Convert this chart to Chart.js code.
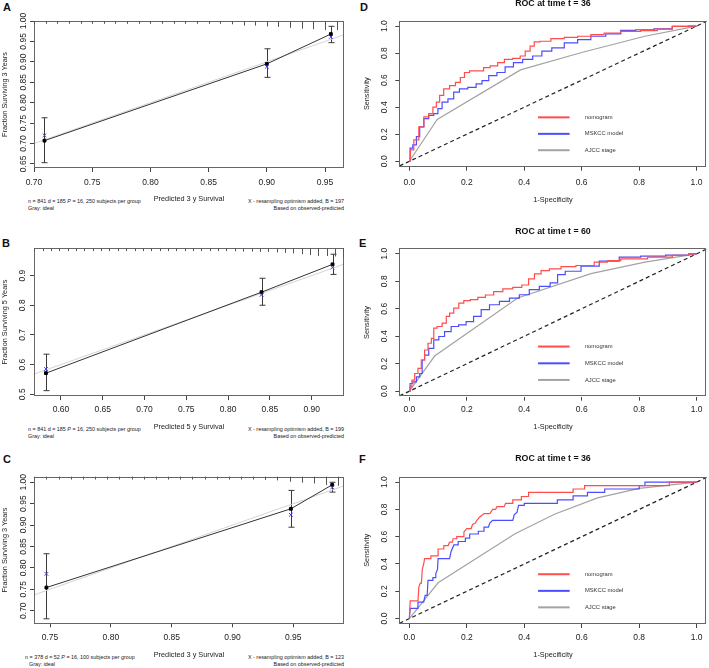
<!DOCTYPE html>
<html lang="en">
<head>
<meta charset="UTF-8">
<title>Calibration and time-dependent ROC</title>
<script src="https://cdn.jsdelivr.net/npm/chart.js"></script>
<style>
  body { margin: 0; background: #fff; width: 709px; height: 668px; overflow: hidden; position: relative;
         font-family: "Liberation Sans", Arial, sans-serif; color: #222; }
  canvas { position: absolute; }
  .tag { position: absolute; font-weight: bold; font-size: 11px; line-height: 12px; color: #111; }
  .note { position: absolute; font-size: 5.4px; line-height: 7.6px; white-space: nowrap; }
  .note.r { text-align: right; }
</style>
</head>
<body>
<div class="tag" style="left:3px;top:1px">A</div>
<div class="tag" style="left:2px;top:237px">B</div>
<div class="tag" style="left:3px;top:453px">C</div>
<div class="tag" style="left:360px;top:1px">D</div>
<div class="tag" style="left:359px;top:237px">E</div>
<div class="tag" style="left:359px;top:453px">F</div>

<div class="note" style="left:28px;top:197.5px">n = 841 d = 185 <i>P</i> = 16, 250 subjects per group<br>Gray: ideal</div>
<div class="note r" style="right:365px;top:197.5px">X - resampling optimism added, B = 197<br>Based on observed-predicted</div>
<div class="note" style="left:28px;top:425.5px">n = 841 d = 185 <i>P</i> = 16, 250 subjects per group<br>Gray: ideal</div>
<div class="note r" style="right:365px;top:425.5px">X - resampling optimism added, B = 199<br>Based on observed-predicted</div>
<div class="note" style="left:25px;top:653.5px">n = 378 d = 52 <i>P</i> = 16, 100 subjects per group<br><span style="padding-left:4px">Gray: ideal</span></div>
<div class="note r" style="right:365px;top:653.5px">X - resampling optimism added, B = 123<br>Based on observed-predicted</div>

<canvas id="calA" width="355" height="215" style="left:0;top:0"></canvas>
<canvas id="calB" width="355" height="225" style="left:0;top:215px"></canvas>
<canvas id="calC" width="355" height="228" style="left:0;top:440px"></canvas>
<canvas id="rocD" width="349" height="215" style="left:360px;top:0"></canvas>
<canvas id="rocE" width="349" height="225" style="left:360px;top:215px"></canvas>
<canvas id="rocF" width="349" height="228" style="left:360px;top:440px"></canvas>

<script>
// ---- calibration data (A: 3-year, training) ----
const calA_pred = [0.709, 0.900, 0.955];
const calA_obs  = [0.707, 0.895, 0.968];
const calA_corr = [0.720, 0.888, 0.961];
const calA_lo   = [0.653, 0.862, 0.947];
const calA_hi   = [0.763, 0.932, 0.987];
const calA_rugX = [0.70, 0.71, 0.72, 0.73, 0.74, 0.75, 0.76, 0.77, 0.78, 0.79, 0.80, 0.81, 0.82, 0.83,
                   0.84, 0.85, 0.86, 0.87, 0.88, 0.89, 0.90, 0.91, 0.92, 0.93, 0.94, 0.95, 0.96];
const calA_rugN = [0.2, 0.2, 0.2, 0.2, 0.2, 0.2, 0.2, 0.2, 0.2, 0.2, 0.2, 0.2, 0.2, 0.2,
                   0.2, 0.2, 0.2, 0.25, 0.4, 0.4, 0.5, 0.55, 0.65, 0.75, 0.8, 0.9, 0.9];
const calA_xTicks = [0.70, 0.75, 0.80, 0.85, 0.90, 0.95];
const calA_yTicks = [0.65, 0.70, 0.75, 0.80, 0.85, 0.90, 0.95, 1.00];

// ---- calibration data (B: 5-year, training) ----
const calB_pred = [0.582, 0.840, 0.925];
const calB_obs  = [0.571, 0.844, 0.938];
const calB_corr = [0.585, 0.835, 0.928];
const calB_lo   = [0.512, 0.800, 0.904];
const calB_hi   = [0.635, 0.891, 0.972];
const calB_rugX = [0.568, 0.578, 0.588, 0.598, 0.608, 0.618, 0.628, 0.638, 0.648, 0.658, 0.668, 0.678, 0.688,
                   0.698, 0.708, 0.718, 0.728, 0.738, 0.748, 0.758, 0.768, 0.778, 0.788, 0.798, 0.808, 0.818,
                   0.828, 0.838, 0.848, 0.858, 0.868, 0.878, 0.888, 0.898, 0.908, 0.918, 0.928, 0.938];
const calB_rugN = [0.2, 0.2, 0.2, 0.2, 0.2, 0.2, 0.2, 0.2, 0.2, 0.2, 0.2, 0.2, 0.2,
                   0.2, 0.2, 0.2, 0.2, 0.2, 0.2, 0.2, 0.2, 0.2, 0.2, 0.2, 0.22, 0.25,
                   0.25, 0.3, 0.3, 0.35, 0.4, 0.45, 0.55, 0.65, 0.75, 0.75, 0.8, 0.9];
const calB_xTicks = [0.60, 0.65, 0.70, 0.75, 0.80, 0.85, 0.90];
const calB_yTicks = [0.5, 0.6, 0.7, 0.8, 0.9];

// ---- calibration data (C: 3-year, validation) ----
const calC_pred = [0.747, 0.948, 0.982];
const calC_obs  = [0.754, 0.938, 0.994];
const calC_corr = [0.786, 0.924, 0.988];
const calC_lo   = [0.681, 0.895, 0.977];
const calC_hi   = [0.833, 0.981, 1.000];
const calC_rugX = [0.737, 0.747, 0.757, 0.767, 0.777, 0.787, 0.797, 0.807, 0.817, 0.827, 0.837, 0.847, 0.857,
                   0.867, 0.877, 0.887, 0.897, 0.907, 0.917, 0.927, 0.937, 0.947, 0.957, 0.967, 0.977, 0.987];
const calC_rugN = [0.2, 0.2, 0.2, 0.2, 0.2, 0.2, 0.2, 0.2, 0.2, 0.2, 0.2, 0.2, 0.2,
                   0.2, 0.2, 0.2, 0.2, 0.2, 0.2, 0.25, 0.3, 0.45, 0.55, 0.65, 0.8, 0.9];
const calC_xTicks = [0.75, 0.80, 0.85, 0.90, 0.95];
const calC_yTicks = [0.70, 0.75, 0.80, 0.85, 0.90, 0.95, 1.00];

// ---- ROC curves [1-specificity, sensitivity] ----
const rocTicks = [0, 0.2, 0.4, 0.6, 0.8, 1.0];

const rocD_nomogram = [[0,0],[0.007,0.085],[0.024,0.158],[0.042,0.255],[0.059,0.328],[0.076,0.353],[0.088,0.401],
  [0.1,0.438],[0.111,0.487],[0.128,0.535],[0.152,0.56],[0.169,0.584],[0.186,0.62],[0.198,0.657],[0.221,0.669],
  [0.25,0.669],[0.267,0.693],[0.296,0.706],[0.319,0.73],[0.343,0.754],[0.377,0.762],[0.395,0.779],[0.412,0.815],
  [0.429,0.852],[0.441,0.883],[0.47,0.888],[0.516,0.908],[0.563,0.917],[0.609,0.925],[0.655,0.937],[0.701,0.949],
  [0.771,0.961],[0.84,0.966],[0.887,0.978],[0.944,0.998],[1,1]];
const rocD_mskcc = [[0,0],[0.005,0.097],[0.019,0.122],[0.03,0.182],[0.042,0.255],[0.059,0.316],[0.076,0.34],
  [0.094,0.353],[0.105,0.389],[0.123,0.438],[0.146,0.462],[0.163,0.511],[0.186,0.535],[0.221,0.547],[0.244,0.572],
  [0.262,0.596],[0.291,0.633],[0.319,0.657],[0.348,0.698],[0.377,0.73],[0.412,0.754],[0.447,0.779],[0.476,0.815],
  [0.516,0.839],[0.563,0.876],[0.609,0.9],[0.655,0.925],[0.713,0.942],[0.759,0.968],[0.817,0.973],[0.887,0.98],
  [0.944,0.998],[1,1]];
const rocD_ajcc = [[0,0],[0.097,0.31],[0.387,0.676],[0.6,0.805],[0.82,0.925],[1,1]];

const rocE_nomogram = [[0,0],[0.005,0.032],[0.013,0.08],[0.024,0.129],[0.036,0.166],[0.047,0.227],[0.059,0.3],
  [0.071,0.349],[0.082,0.385],[0.088,0.459],[0.105,0.471],[0.123,0.495],[0.134,0.544],[0.146,0.568],[0.163,0.605],
  [0.181,0.641],[0.198,0.659],[0.227,0.666],[0.25,0.683],[0.279,0.7],[0.308,0.724],[0.343,0.744],[0.377,0.756],
  [0.406,0.773],[0.424,0.817],[0.447,0.854],[0.47,0.878],[0.505,0.89],[0.551,0.907],[0.609,0.915],[0.678,0.939],
  [0.701,0.951],[0.771,0.963],[0.887,0.976],[0.944,0.988],[1,1]];
const rocE_mskcc = [[0,0],[0.005,0.056],[0.019,0.068],[0.03,0.105],[0.042,0.129],[0.047,0.227],[0.059,0.263],
  [0.076,0.312],[0.094,0.373],[0.111,0.398],[0.134,0.434],[0.157,0.471],[0.186,0.483],[0.209,0.507],[0.238,0.544],
  [0.262,0.593],[0.296,0.629],[0.331,0.654],[0.366,0.678],[0.4,0.702],[0.435,0.739],[0.47,0.763],[0.51,0.788],
  [0.522,0.849],[0.563,0.873],[0.632,0.91],[0.69,0.946],[0.771,0.976],[0.84,0.983],[0.944,0.99],[1,1]];
const rocE_ajcc = [[0,0],[0.088,0.256],[0.377,0.678],[0.632,0.856],[0.82,0.94],[1,1]];

const rocF_nomogram = [[0,0],[0.003,0.13],[0.03,0.13],[0.033,0.23],[0.038,0.26],[0.042,0.26],[0.045,0.36],
  [0.05,0.4],[0.053,0.44],[0.072,0.44],[0.075,0.46],[0.1,0.46],[0.1,0.51],[0.12,0.51],[0.12,0.535],[0.135,0.535],
  [0.14,0.56],[0.15,0.56],[0.152,0.585],[0.165,0.585],[0.165,0.6],[0.19,0.6],[0.19,0.635],[0.2,0.66],[0.215,0.66],
  [0.22,0.69],[0.23,0.7],[0.235,0.72],[0.245,0.745],[0.26,0.77],[0.28,0.77],[0.29,0.8],[0.3,0.8],[0.305,0.82],
  [0.33,0.82],[0.335,0.845],[0.36,0.845],[0.36,0.87],[0.39,0.87],[0.39,0.895],[0.415,0.895],[0.415,0.925],
  [0.57,0.925],[0.57,0.95],[0.61,0.95],[0.61,0.975],[0.905,0.975],[0.905,1.0],[1,1]];
const rocF_mskcc = [[0,0],[0.003,0.075],[0.028,0.075],[0.03,0.12],[0.05,0.12],[0.055,0.17],[0.062,0.17],
  [0.065,0.28],[0.08,0.28],[0.082,0.3],[0.09,0.3],[0.092,0.33],[0.098,0.36],[0.1,0.44],[0.14,0.44],[0.145,0.49],
  [0.155,0.54],[0.17,0.54],[0.17,0.565],[0.195,0.565],[0.195,0.59],[0.21,0.59],[0.21,0.62],[0.24,0.62],[0.24,0.64],
  [0.26,0.64],[0.26,0.67],[0.275,0.67],[0.28,0.7],[0.29,0.72],[0.36,0.72],[0.365,0.76],[0.375,0.78],[0.38,0.83],
  [0.4,0.83],[0.4,0.845],[0.515,0.845],[0.515,0.87],[0.57,0.87],[0.57,0.9],[0.62,0.9],[0.62,0.925],[0.68,0.925],
  [0.68,0.95],[0.8,0.95],[0.8,0.975],[0.82,0.975],[0.82,1.0],[1,1]];
const rocF_ajcc = [[0,0],[0.1,0.262],[0.368,0.622],[0.505,0.765],[0.655,0.885],[0.8,0.955],[1,1]];

const rocLabels = ['nomogram', 'MSKCC model', 'AJCC stage'];
const rocColors = ['#ff4d4d', '#4d4dff', '#a3a3a3'];

// ---- shared bits ----
const FAM = '"Liberation Sans", Arial, Helvetica, sans-serif';
const pts = arr => arr.map(p => ({x: p[0], y: p[1]}));

const rBox = {
  id: 'rBox',
  afterDatasetsDraw(chart) {
    const {ctx, chartArea: a} = chart;
    ctx.save();
    ctx.strokeStyle = '#666';
    ctx.lineWidth = 1;
    ctx.strokeRect(Math.round(a.left) + 0.5, Math.round(a.top) + 0.5,
                   Math.round(a.right - a.left) - 1, Math.round(a.bottom - a.top) - 1);
    ctx.restore();
  }
};

// R style: y tick labels written parallel to the axis
const rYLabels = {
  id: 'rYLabels',
  afterDraw(chart, args, opts) {
    const {ctx, chartArea: a} = chart;
    const y = chart.scales.y;
    ctx.save();
    ctx.font = '8.5px ' + FAM;
    ctx.fillStyle = '#222';
    ctx.textAlign = 'center';
    ctx.textBaseline = 'middle';
    y.ticks.forEach(t => {
      ctx.save();
      ctx.translate(a.left - opts.gap, y.getPixelForValue(t.value));
      ctx.rotate(-Math.PI / 2);
      ctx.fillText(t.value.toFixed(opts.digits), 0, 0);
      ctx.restore();
    });
    ctx.restore();
  }
};

function xAxis(o) {
  return {
    type: 'linear', min: o.min, max: o.max,
    afterBuildTicks: s => { s.ticks = o.ticks.map(v => ({value: v})); },
    afterFit: s => { s.height = o.h; },
    ticks: { callback: v => v.toFixed(o.digits), font: {size: 8.5, family: FAM}, color: '#222',
             padding: o.pad, maxRotation: 0, autoSkip: false },
    grid: { drawOnChartArea: false, tickLength: 4, color: '#444' },
    border: { display: false },
    title: { display: true, text: o.title, font: {size: 7.3, family: FAM}, color: '#222',
             padding: {top: 0, bottom: o.tpb} }
  };
}
function yAxis(o) {
  return {
    type: 'linear', min: o.min, max: o.max,
    afterBuildTicks: s => { s.ticks = o.ticks.map(v => ({value: v})); },
    afterFit: s => { s.width = o.w; },
    ticks: { display: false },
    grid: { drawOnChartArea: false, tickLength: 4, color: '#444' },
    border: { display: false },
    title: { display: true, text: o.title, font: {size: 7.3, family: FAM}, color: '#222',
             padding: {top: o.tpt, bottom: 0} }
  };
}

function makeCal(id, c) {
  const extras = {
    id: 'calExtras',
    beforeDatasetsDraw(chart) {
      const {ctx, scales: {x, y}} = chart;
      ctx.save();
      ctx.strokeStyle = '#3a3a3a';
      ctx.lineWidth = 1;
      c.pred.forEach((p, i) => {
        const px = Math.round(x.getPixelForValue(p)) + 0.5;
        const y0 = y.getPixelForValue(c.lo[i]), y1 = y.getPixelForValue(c.hi[i]);
        ctx.beginPath();
        ctx.moveTo(px, y0); ctx.lineTo(px, y1);
        ctx.moveTo(px - 3, y0); ctx.lineTo(px + 3, y0);
        ctx.moveTo(px - 3, y1); ctx.lineTo(px + 3, y1);
        ctx.stroke();
      });
      ctx.restore();
    },
    afterDraw(chart) {
      const {ctx, chartArea: a, scales: {x}} = chart;
      ctx.save();
      ctx.strokeStyle = '#555';
      ctx.lineWidth = 1;
      c.rugX.forEach((v, i) => {
        const px = Math.round(x.getPixelForValue(v)) + 0.5;
        ctx.beginPath();
        ctx.moveTo(px, a.top);
        ctx.lineTo(px, a.top + 1 + c.rugN[i] * 9);
        ctx.stroke();
      });
      ctx.restore();
    }
  };
  return new Chart(document.getElementById(id), {
    type: 'scatter',
    data: {
      datasets: [
        { data: c.pred.map((p, i) => ({x: p, y: c.corr[i]})), showLine: false, pointStyle: 'crossRot',
          pointRadius: 2.6, borderColor: '#3b3bff', borderWidth: 1 },
        { data: c.pred.map((p, i) => ({x: p, y: c.obs[i]})), showLine: true, borderColor: '#333',
          borderWidth: 1, pointStyle: 'rect', pointRadius: 2, pointBackgroundColor: '#000', pointBorderColor: '#000' },
        { data: [{x: 0.4, y: 0.4}, {x: 1.1, y: 1.1}], showLine: true, borderColor: '#d4d4d4',
          borderWidth: 1, pointRadius: 0, clip: 0 }
      ]
    },
    options: {
      responsive: false, animation: false, events: [],
      layout: { padding: {top: c.top, right: 11, left: 0, bottom: 0} },
      plugins: { legend: {display: false}, tooltip: {enabled: false},
                 rYLabels: {gap: c.ygap, digits: c.ydig} },
      scales: {
        x: xAxis({min: c.xmin, max: c.xmax, ticks: c.xTicks, digits: 2, h: c.xh, pad: c.xpad,
                  title: c.xtitle, tpb: c.tpb}),
        y: yAxis({min: c.ymin, max: c.ymax, ticks: c.yTicks, w: 34, title: c.ytitle, tpt: 0.5})
      }
    },
    plugins: [extras, rBox, rYLabels]
  });
}

function makeRoc(id, c) {
  const deco = {
    id: 'rocDeco',
    afterDraw(chart) {
      const {ctx, chartArea: a, scales: {x, y}} = chart;
      ctx.save();
      // main title
      ctx.font = 'bold 8.8px ' + FAM;
      ctx.fillStyle = '#111';
      ctx.textAlign = 'center';
      ctx.textBaseline = 'middle';
      ctx.fillText(c.title, (a.left + a.right) / 2, a.top - c.tgap);
      // legend inside the plot
      const ly = [0.325, 0.203, 0.082];
      ctx.font = '5.8px ' + FAM;
      ctx.textAlign = 'left';
      ctx.fillStyle = '#333';
      rocLabels.forEach((lab, i) => {
        const py = y.getPixelForValue(ly[i]);
        ctx.strokeStyle = rocColors[i];
        ctx.lineWidth = 2;
        ctx.beginPath();
        ctx.moveTo(x.getPixelForValue(0.448), py);
        ctx.lineTo(x.getPixelForValue(0.558), py);
        ctx.stroke();
        ctx.fillText(lab, x.getPixelForValue(0.611), py);
      });
      ctx.restore();
    }
  };
  const line = (arr, i, st) => ({ label: rocLabels[i], data: pts(arr), showLine: true, borderColor: rocColors[i],
                                  borderWidth: 1.2, pointRadius: 0, clip: 0, stepped: st || false });
  return new Chart(document.getElementById(id), {
    type: 'scatter',
    data: {
      datasets: [
        line(c.nomo, 0, c.step), line(c.msk, 1, c.step), line(c.ajcc, 2),
        { data: [{x: -0.1, y: -0.1}, {x: 1.1, y: 1.1}], showLine: true, borderColor: '#222',
          borderWidth: 1.2, borderDash: [4, 3], pointRadius: 0, clip: 0 }
      ]
    },
    options: {
      responsive: false, animation: false, events: [],
      layout: { padding: {top: c.top, right: 2.3, left: 0, bottom: 0} },
      plugins: { legend: {display: false}, tooltip: {enabled: false},
                 rYLabels: {gap: 14.3, digits: 1} },
      scales: {
        x: xAxis({min: -0.035, max: 1.035, ticks: rocTicks, digits: 1, h: c.xh, pad: c.xpad,
                  title: '1-Specificity', tpb: c.tpb}),
        y: yAxis({min: -0.04, max: 1.04, ticks: rocTicks, w: 39.3, title: 'Sensitivity', tpt: 2.8})
      }
    },
    plugins: [rBox, rYLabels, deco]
  });
}

makeCal('calA', { pred: calA_pred, obs: calA_obs, corr: calA_corr, lo: calA_lo, hi: calA_hi,
  rugX: calA_rugX, rugN: calA_rugN, xTicks: calA_xTicks, yTicks: calA_yTicks,
  xmin: 0.70, xmax: 0.9663, ymin: 0.64, ymax: 1.0, top: 21, xh: 47, xpad: 5.2, tpb: 11.3, ygap: 10, ydig: 2,
  xtitle: 'Predicted 3 y Survival', ytitle: 'Fraction Surviving 3 Years' });
makeCal('calB', { pred: calB_pred, obs: calB_obs, corr: calB_corr, lo: calB_lo, hi: calB_hi,
  rugX: calB_rugX, rugN: calB_rugN, xTicks: calB_xTicks, yTicks: calB_yTicks,
  xmin: 0.5677, xmax: 0.9387, ymin: 0.494, ymax: 0.992, top: 33.3, xh: 44, xpad: 4.8, tpb: 8.3, ygap: 11.5, ydig: 1,
  xtitle: 'Predicted 5 y Survival', ytitle: 'Fraction Surviving 5 Years' });
makeCal('calC', { pred: calC_pred, obs: calC_obs, corr: calC_corr, lo: calC_lo, hi: calC_hi,
  rugX: calC_rugX, rugN: calC_rugN, xTicks: calC_xTicks, yTicks: calC_yTicks,
  xmin: 0.7368, xmax: 0.9917, ymin: 0.6705, ymax: 1.013, top: 36.7, xh: 44.7, xpad: 4.9, tpb: 8.6, ygap: 10.3, ydig: 2,
  xtitle: 'Predicted 3 y Survival', ytitle: 'Fraction Surviving 3 Years' });

makeRoc('rocD', { nomo: rocD_nomogram, msk: rocD_mskcc, ajcc: rocD_ajcc, title: 'ROC at time t = 36',
  top: 20.7, xh: 48.3, xpad: 6.5, tpb: 10.6, tgap: 17, step: 'middle' });
makeRoc('rocE', { nomo: rocE_nomogram, msk: rocE_mskcc, ajcc: rocE_ajcc, title: 'ROC at time t = 60',
  top: 33.3, xh: 43.3, xpad: 4.1, tpb: 8.9, tgap: 16.6, step: 'middle' });
makeRoc('rocF', { nomo: rocF_nomogram, msk: rocF_mskcc, ajcc: rocF_ajcc, title: 'ROC at time t = 36',
  top: 36.7, xh: 44, xpad: 4.2, tpb: 8.6, tgap: 17.7 });
</script>
</body>
</html>
